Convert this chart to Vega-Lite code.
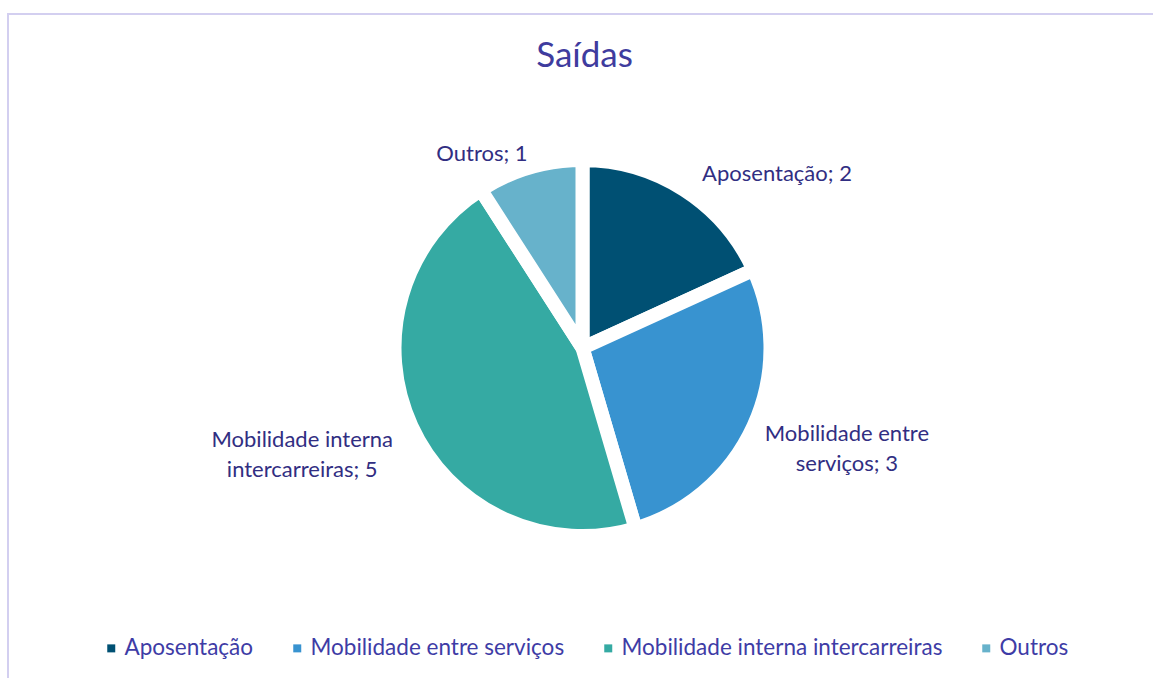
{
  "$schema": "https://vega.github.io/schema/vega-lite/v6.json",
  "width": 1153,
  "height": 678,
  "autosize": {"type": "fit", "contains": "padding"},
  "padding": {"left": 8, "top": 14, "right": -4, "bottom": -4},
  "background": "white",
  "view": {"stroke": "#D3CFF0", "strokeWidth": 2, "fill": "white"},
  "config": {
    "font": "Lato"
  },
  "title": {
    "text": "Saídas",
    "orient": "top",
    "anchor": "middle",
    "offset": -60,
    "dx": 2,
    "font": "Lato",
    "fontSize": 35,
    "fontWeight": "normal",
    "color": "#3F3C9E"
  },
  "data": {
    "values": [
      {"categoria": "Aposentação", "valor": 2, "rotulo": "Aposentação; 2"},
      {"categoria": "Mobilidade entre serviços", "valor": 3, "rotulo": "Mobilidade entre\nserviços; 3"},
      {"categoria": "Mobilidade interna intercarreiras", "valor": 5, "rotulo": "Mobilidade interna\nintercarreiras; 5"},
      {"categoria": "Outros", "valor": 1, "rotulo": "Outros; 1"}
    ]
  },
  "layer": [
    {
      "mark": {"type": "arc", "outerRadius": 188, "stroke": "white", "strokeWidth": 14},
      "encoding": {
        "theta": {"field": "valor", "type": "quantitative", "stack": true},
        "color": {
          "field": "categoria",
          "type": "nominal",
          "scale": {
            "domain": ["Aposentação", "Mobilidade entre serviços", "Mobilidade interna intercarreiras", "Outros"],
            "range": ["#005073", "#3893D0", "#35AAA3", "#67B2CB"]
          },
          "legend": {
            "title": null,
            "orient": "none",
            "legendX": 92,
            "legendY": 623,
            "direction": "horizontal",
            "columns": 4,
            "columnPadding": 32,
            "symbolType": "square",
            "symbolSize": 64,
            "symbolStrokeWidth": 0,
            "labelOffset": 2,
            "labelFont": "Lato",
            "labelFontSize": 22.5,
            "labelColor": "#3E3CA6",
            "labelLimit": 500,
            "padding": 0
          }
        }
      }
    },
    {
      "transform": [{"filter": "datum.categoria === 'Aposentação'"}],
      "mark": {"type": "text", "font": "Lato", "fontSize": 22, "color": "#312E82", "align": "center", "baseline": "middle", "lineBreak": "\n", "lineHeight": 30},
      "encoding": {"text": {"field": "rotulo"}, "theta": {"value": 0.841}, "radius": {"value": 261}}
    },
    {
      "transform": [{"filter": "datum.categoria === 'Mobilidade entre serviços'"}],
      "mark": {"type": "text", "font": "Lato", "fontSize": 22, "color": "#312E82", "align": "center", "baseline": "middle", "lineBreak": "\n", "lineHeight": 30},
      "encoding": {"text": {"field": "rotulo"}, "theta": {"value": 1.885}, "radius": {"value": 278}}
    },
    {
      "transform": [{"filter": "datum.categoria === 'Mobilidade interna intercarreiras'"}],
      "mark": {"type": "text", "font": "Lato", "fontSize": 22, "color": "#312E82", "align": "center", "baseline": "middle", "lineBreak": "\n", "lineHeight": 30},
      "encoding": {"text": {"field": "rotulo"}, "theta": {"value": 4.395}, "radius": {"value": 295}}
    },
    {
      "transform": [{"filter": "datum.categoria === 'Outros'"}],
      "mark": {"type": "text", "font": "Lato", "fontSize": 22, "color": "#312E82", "align": "center", "baseline": "middle", "lineBreak": "\n", "lineHeight": 30},
      "encoding": {"text": {"field": "rotulo"}, "theta": {"value": 5.805}, "radius": {"value": 218.5}}
    }
  ]
}
